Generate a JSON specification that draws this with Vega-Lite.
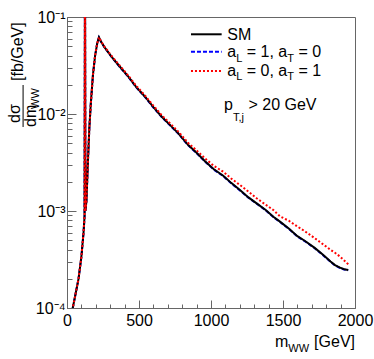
{
  "$schema": "https://vega.github.io/schema/vega-lite/v6.json",
  "width": 288,
  "height": 291,
  "autosize": {"type": "none"},
  "padding": {"left": 67, "top": 17, "right": 19, "bottom": 51},
  "background": "white",
  "config": {
    "font": "Liberation Sans",
    "view": {"stroke": "#666", "strokeWidth": 1},
    "text": {"font": "Liberation Sans", "color": "black"}
  },
  "datasets": {
    "curves": [
      {"m": 30, "s": "SM", "v": 6.5e-5}, {"m": 40, "s": "SM", "v": 1.0e-4}, {"m": 60, "s": "SM", "v": 1.413e-4}, {"m": 80, "s": "SM", "v": 1.995e-4}, {"m": 100, "s": "SM", "v": 3.388e-4}, {"m": 115, "s": "SM", "v": 6.026e-4}, {"m": 122, "s": "SM", "v": 8.913e-4}, {"m": 125, "s": "SM", "v": 0.5}, {"m": 128, "s": "SM", "v": 1.0e-3}, {"m": 135, "s": "SM", "v": 1.259e-3}, {"m": 145, "s": "SM", "v": 3.162e-3}, {"m": 155, "s": "SM", "v": 7.079e-3}, {"m": 165, "s": "SM", "v": 0.01259}, {"m": 180, "s": "SM", "v": 0.02512}, {"m": 195, "s": "SM", "v": 0.03981}, {"m": 210, "s": "SM", "v": 0.0537}, {"m": 222, "s": "SM", "v": 0.06166}, {"m": 235, "s": "SM", "v": 0.05623}, {"m": 260, "s": "SM", "v": 0.04898}, {"m": 310, "s": "SM", "v": 0.0389}, {"m": 360, "s": "SM", "v": 0.03162}, {"m": 426, "s": "SM", "v": 0.02427}, {"m": 480, "s": "SM", "v": 0.01905}, {"m": 542, "s": "SM", "v": 0.01507}, {"m": 600, "s": "SM", "v": 0.01175}, {"m": 658, "s": "SM", "v": 0.009376}, {"m": 720, "s": "SM", "v": 0.007586}, {"m": 773, "s": "SM", "v": 0.006324}, {"m": 842, "s": "SM", "v": 0.004786}, {"m": 900, "s": "SM", "v": 0.003981}, {"m": 960, "s": "SM", "v": 0.003236}, {"m": 1020, "s": "SM", "v": 0.002692}, {"m": 1085, "s": "SM", "v": 0.002312}, {"m": 1140, "s": "SM", "v": 0.00195}, {"m": 1201, "s": "SM", "v": 0.001644}, {"m": 1260, "s": "SM", "v": 0.00138}, {"m": 1317, "s": "SM", "v": 0.001199}, {"m": 1380, "s": "SM", "v": 0.001023}, {"m": 1433, "s": "SM", "v": 0.000873}, {"m": 1479, "s": "SM", "v": 0.0007762}, {"m": 1540, "s": "SM", "v": 0.0006607}, {"m": 1600, "s": "SM", "v": 0.0005495}, {"m": 1653, "s": "SM", "v": 0.0004909}, {"m": 1720, "s": "SM", "v": 0.0004169}, {"m": 1780, "s": "SM", "v": 0.0003516}, {"m": 1830, "s": "SM", "v": 0.000302}, {"m": 1861, "s": "SM", "v": 0.0002773}, {"m": 1896, "s": "SM", "v": 0.0002606}, {"m": 1925, "s": "SM", "v": 0.0002512}, {"m": 1953, "s": "SM", "v": 0.0002466},

      {"m": 30, "s": "L", "v": 6.5e-5}, {"m": 40, "s": "L", "v": 1.0e-4}, {"m": 60, "s": "L", "v": 1.41e-4}, {"m": 80, "s": "L", "v": 1.99e-4}, {"m": 100, "s": "L", "v": 3.38e-4}, {"m": 115, "s": "L", "v": 6.0e-4}, {"m": 122, "s": "L", "v": 8.9e-4}, {"m": 125, "s": "L", "v": 0.5}, {"m": 128, "s": "L", "v": 1.0e-3}, {"m": 135, "s": "L", "v": 1.26e-3}, {"m": 145, "s": "L", "v": 3.16e-3}, {"m": 155, "s": "L", "v": 7.08e-3}, {"m": 165, "s": "L", "v": 0.01259}, {"m": 180, "s": "L", "v": 0.0251}, {"m": 195, "s": "L", "v": 0.0398}, {"m": 210, "s": "L", "v": 0.0537}, {"m": 222, "s": "L", "v": 0.0615}, {"m": 235, "s": "L", "v": 0.056}, {"m": 260, "s": "L", "v": 0.0487}, {"m": 310, "s": "L", "v": 0.0387}, {"m": 360, "s": "L", "v": 0.0314}, {"m": 426, "s": "L", "v": 0.0241}, {"m": 480, "s": "L", "v": 0.0189}, {"m": 542, "s": "L", "v": 0.01495}, {"m": 600, "s": "L", "v": 0.01165}, {"m": 658, "s": "L", "v": 0.0093}, {"m": 720, "s": "L", "v": 0.00752}, {"m": 773, "s": "L", "v": 0.00627}, {"m": 842, "s": "L", "v": 0.00475}, {"m": 900, "s": "L", "v": 0.00395}, {"m": 960, "s": "L", "v": 0.00321}, {"m": 1020, "s": "L", "v": 0.00267}, {"m": 1085, "s": "L", "v": 0.00229}, {"m": 1140, "s": "L", "v": 0.001935}, {"m": 1201, "s": "L", "v": 0.00163}, {"m": 1260, "s": "L", "v": 0.00137}, {"m": 1317, "s": "L", "v": 0.00119}, {"m": 1380, "s": "L", "v": 0.001015}, {"m": 1433, "s": "L", "v": 0.000866}, {"m": 1479, "s": "L", "v": 0.00077}, {"m": 1540, "s": "L", "v": 0.000655}, {"m": 1600, "s": "L", "v": 0.000545}, {"m": 1653, "s": "L", "v": 0.000487}, {"m": 1720, "s": "L", "v": 0.000413}, {"m": 1780, "s": "L", "v": 0.000348}, {"m": 1830, "s": "L", "v": 0.0003}, {"m": 1861, "s": "L", "v": 0.000275}, {"m": 1896, "s": "L", "v": 0.000258}, {"m": 1925, "s": "L", "v": 0.000249}, {"m": 1953, "s": "L", "v": 0.000245},

      {"m": 30, "s": "T", "v": 6.5e-5}, {"m": 40, "s": "T", "v": 1.0e-4}, {"m": 60, "s": "T", "v": 1.413e-4}, {"m": 80, "s": "T", "v": 1.995e-4}, {"m": 100, "s": "T", "v": 3.388e-4}, {"m": 115, "s": "T", "v": 6.026e-4}, {"m": 122, "s": "T", "v": 8.913e-4}, {"m": 125, "s": "T", "v": 0.5}, {"m": 128, "s": "T", "v": 1.0e-3}, {"m": 135, "s": "T", "v": 1.259e-3}, {"m": 145, "s": "T", "v": 3.162e-3}, {"m": 155, "s": "T", "v": 7.079e-3}, {"m": 165, "s": "T", "v": 0.01259}, {"m": 180, "s": "T", "v": 0.02512}, {"m": 195, "s": "T", "v": 0.03981}, {"m": 210, "s": "T", "v": 0.0537}, {"m": 222, "s": "T", "v": 0.06166}, {"m": 235, "s": "T", "v": 0.05689}, {"m": 260, "s": "T", "v": 0.04955}, {"m": 310, "s": "T", "v": 0.03963}, {"m": 360, "s": "T", "v": 0.03236}, {"m": 426, "s": "T", "v": 0.02483}, {"m": 480, "s": "T", "v": 0.01959}, {"m": 542, "s": "T", "v": 0.01549}, {"m": 600, "s": "T", "v": 0.01216}, {"m": 658, "s": "T", "v": 0.009705}, {"m": 720, "s": "T", "v": 0.007889}, {"m": 773, "s": "T", "v": 0.006577}, {"m": 842, "s": "T", "v": 0.005012}, {"m": 900, "s": "T", "v": 0.004217}, {"m": 960, "s": "T", "v": 0.003467}, {"m": 1020, "s": "T", "v": 0.002917}, {"m": 1085, "s": "T", "v": 0.002541}, {"m": 1140, "s": "T", "v": 0.002163}, {"m": 1201, "s": "T", "v": 0.001854}, {"m": 1260, "s": "T", "v": 0.001585}, {"m": 1317, "s": "T", "v": 0.001352}, {"m": 1380, "s": "T", "v": 0.001161}, {"m": 1433, "s": "T", "v": 0.001023}, {"m": 1479, "s": "T", "v": 0.000881}, {"m": 1540, "s": "T", "v": 0.0007943}, {"m": 1600, "s": "T", "v": 0.0006918}, {"m": 1653, "s": "T", "v": 0.0006166}, {"m": 1720, "s": "T", "v": 0.0005248}, {"m": 1780, "s": "T", "v": 0.0004519}, {"m": 1830, "s": "T", "v": 0.0003981}, {"m": 1861, "s": "T", "v": 0.0003715}, {"m": 1896, "s": "T", "v": 0.0003388}, {"m": 1925, "s": "T", "v": 0.000309}, {"m": 1953, "s": "T", "v": 0.0002825}
    ]
  },
  "layer": [
    {
      "data": {"name": "curves"},
      "encoding": {
        "x": {
          "field": "m", "type": "quantitative",
          "scale": {"domain": [0, 2000], "nice": false, "zero": false},
          "axis": {
            "title": null, "grid": false,
            "values": [0, 100, 200, 300, 400, 500, 600, 700, 800, 900, 1000, 1100, 1200, 1300, 1400, 1500, 1600, 1700, 1800, 1900, 2000],
            "format": "d",
            "labelExpr": "datum.value % 500 === 0 ? datum.label : ''",
            "tickSize": {"condition": {"test": "datum.value % 500 === 0", "value": -8}, "value": -4},
            "labelPadding": 12, "labelFontSize": 16, "labelColor": "black", "labelFont": "Liberation Sans",
            "labelOverlap": false, "labelFlush": false, "labelBound": false,
            "domainColor": "#666", "tickColor": "#666"
          }
        },
        "y": {
          "field": "v", "type": "quantitative",
          "scale": {"type": "log", "domain": [0.0001, 0.1], "nice": false},
          "axis": {
            "title": null, "grid": false,
            "values": [0.0001, 0.0002, 0.0003, 0.0004, 0.0005, 0.0006, 0.0007, 0.0008, 0.0009, 0.001, 0.002, 0.003, 0.004, 0.005, 0.006, 0.007, 0.008, 0.009, 0.01, 0.02, 0.03, 0.04, 0.05, 0.06, 0.07, 0.08, 0.09, 0.1],
            "labelExpr": "datum.value === 0.1 ? '10⁻¹' : datum.value === 0.01 ? '10⁻²' : datum.value === 0.001 ? '10⁻³' : datum.value === 0.0001 ? '10⁻⁴' : ''",
            "tickSize": {"condition": {"test": "datum.value === 0.1 || datum.value === 0.01 || datum.value === 0.001 || datum.value === 0.0001", "value": -9}, "value": -5},
            "labelPadding": 11, "labelFontSize": 16, "labelColor": "black", "labelFont": "Liberation Sans",
            "labelOverlap": false, "labelFlush": false, "labelBound": false,
            "domainColor": "#666", "tickColor": "#666"
          }
        }
      },
      "layer": [
        {"transform": [{"filter": "datum.s === 'L'"}], "mark": {"type": "line", "color": "#0000ff", "strokeWidth": 2, "strokeDash": [4, 2], "clip": true}},
        {"transform": [{"filter": "datum.s === 'SM'"}], "mark": {"type": "line", "color": "black", "strokeWidth": 2, "clip": true}},
        {"transform": [{"filter": "datum.s === 'T'"}], "mark": {"type": "line", "color": "#ff0000", "strokeWidth": 2, "strokeDash": [2, 2], "clip": true}}
      ]
    },
    {
      "data": {"values": [{"t": ""}]},
      "encoding": {
        "x": {
          "datum": 0, "type": "quantitative",
          "scale": {"domain": [0, 2000], "nice": false, "zero": false},
          "axis": {
            "title": null, "grid": false,
            "values": [0, 100, 200, 300, 400, 500, 600, 700, 800, 900, 1000, 1100, 1200, 1300, 1400, 1500, 1600, 1700, 1800, 1900, 2000],
            "format": "d",
            "labelExpr": "datum.value % 500 === 0 ? datum.label : ''",
            "tickSize": {"condition": {"test": "datum.value % 500 === 0", "value": -8}, "value": -4},
            "labelPadding": 12, "labelFontSize": 16, "labelColor": "black", "labelFont": "Liberation Sans",
            "labelOverlap": false, "labelFlush": false, "labelBound": false,
            "domainColor": "#666", "tickColor": "#666"
          }
        },
        "y": {
          "datum": 0.001, "type": "quantitative",
          "scale": {"type": "log", "domain": [0.0001, 0.1], "nice": false},
          "axis": {
            "title": null, "grid": false,
            "values": [0.0001, 0.0002, 0.0003, 0.0004, 0.0005, 0.0006, 0.0007, 0.0008, 0.0009, 0.001, 0.002, 0.003, 0.004, 0.005, 0.006, 0.007, 0.008, 0.009, 0.01, 0.02, 0.03, 0.04, 0.05, 0.06, 0.07, 0.08, 0.09, 0.1],
            "labelExpr": "datum.value === 0.1 ? '10⁻¹' : datum.value === 0.01 ? '10⁻²' : datum.value === 0.001 ? '10⁻³' : datum.value === 0.0001 ? '10⁻⁴' : ''",
            "tickSize": {"condition": {"test": "datum.value === 0.1 || datum.value === 0.01 || datum.value === 0.001 || datum.value === 0.0001", "value": -9}, "value": -5},
            "labelPadding": 11, "labelFontSize": 16, "labelColor": "black", "labelFont": "Liberation Sans",
            "labelOverlap": false, "labelFlush": false, "labelBound": false,
            "domainColor": "#666", "tickColor": "#666"
          }
        }
      },
      "layer": [
        {"mark": {"type": "rule", "color": "black", "strokeWidth": 2}, "encoding": {"x": {"datum": 861}, "x2": {"datum": 1074}, "y": {"datum": 0.06633}}},
        {"mark": {"type": "rule", "color": "#0000ff", "strokeWidth": 2, "strokeDash": [4, 2]}, "encoding": {"x": {"datum": 861}, "x2": {"datum": 1074}, "y": {"datum": 0.04388}}},
        {"mark": {"type": "rule", "color": "#ff0000", "strokeWidth": 2, "strokeDash": [2, 2]}, "encoding": {"x": {"datum": 861}, "x2": {"datum": 1074}, "y": {"datum": 0.02775}}},

        {"mark": {"type": "text", "align": "left", "baseline": "alphabetic", "fontSize": 16, "text": "SM"}, "encoding": {"x": {"datum": 1113}, "y": {"datum": 0.05792}}},

        {"mark": {"type": "text", "align": "left", "baseline": "alphabetic", "fontSize": 16, "text": "a"}, "encoding": {"x": {"datum": 1113}, "y": {"datum": 0.03869}}},
        {"mark": {"type": "text", "align": "left", "baseline": "alphabetic", "fontSize": 11, "text": "L"}, "encoding": {"x": {"datum": 1175}, "y": {"datum": 0.03477}}},
        {"mark": {"type": "text", "align": "left", "baseline": "alphabetic", "fontSize": 16, "text": "= 1, a"}, "encoding": {"x": {"datum": 1248}, "y": {"datum": 0.03869}}},
        {"mark": {"type": "text", "align": "left", "baseline": "alphabetic", "fontSize": 11, "text": "T"}, "encoding": {"x": {"datum": 1529}, "y": {"datum": 0.03477}}},
        {"mark": {"type": "text", "align": "left", "baseline": "alphabetic", "fontSize": 16, "text": "= 0"}, "encoding": {"x": {"datum": 1607}, "y": {"datum": 0.03869}}},

        {"mark": {"type": "text", "align": "left", "baseline": "alphabetic", "fontSize": 16, "text": "a"}, "encoding": {"x": {"datum": 1113}, "y": {"datum": 0.02465}}},
        {"mark": {"type": "text", "align": "left", "baseline": "alphabetic", "fontSize": 11, "text": "L"}, "encoding": {"x": {"datum": 1175}, "y": {"datum": 0.02215}}},
        {"mark": {"type": "text", "align": "left", "baseline": "alphabetic", "fontSize": 16, "text": "= 0, a"}, "encoding": {"x": {"datum": 1248}, "y": {"datum": 0.02465}}},
        {"mark": {"type": "text", "align": "left", "baseline": "alphabetic", "fontSize": 11, "text": "T"}, "encoding": {"x": {"datum": 1529}, "y": {"datum": 0.02215}}},
        {"mark": {"type": "text", "align": "left", "baseline": "alphabetic", "fontSize": 16, "text": "= 1"}, "encoding": {"x": {"datum": 1607}, "y": {"datum": 0.02465}}},

        {"mark": {"type": "text", "align": "left", "baseline": "alphabetic", "fontSize": 16, "text": "p"}, "encoding": {"x": {"datum": 1090}, "y": {"datum": 0.01099}}},
        {"mark": {"type": "text", "align": "left", "baseline": "alphabetic", "fontSize": 11, "text": "T,j"}, "encoding": {"x": {"datum": 1152}, "y": {"datum": 0.008428}}},
        {"mark": {"type": "text", "align": "left", "baseline": "alphabetic", "fontSize": 16, "text": "> 20 GeV"}, "encoding": {"x": {"datum": 1260}, "y": {"datum": 0.01099}}},

        {"mark": {"type": "text", "align": "left", "baseline": "alphabetic", "fontSize": 16, "text": "m"}, "encoding": {"x": {"datum": 1444}, "y": {"datum": 3.963e-5}}},
        {"mark": {"type": "text", "align": "left", "baseline": "alphabetic", "fontSize": 11, "text": "WW"}, "encoding": {"x": {"datum": 1537}, "y": {"datum": 3.559e-5}}},
        {"mark": {"type": "text", "align": "right", "baseline": "alphabetic", "fontSize": 16, "text": "[GeV]"}, "encoding": {"x": {"datum": 2000}, "y": {"datum": 3.963e-5}}},

        {"mark": {"type": "text", "align": "left", "baseline": "alphabetic", "fontSize": 16, "angle": 270, "text": "dσ"}, "encoding": {"x": {"datum": -326}, "y": {"datum": 0.008072}}},
        {"mark": {"type": "rule", "color": "black", "strokeWidth": 1}, "encoding": {"x": {"datum": -305}, "y": {"datum": 0.0199}, "y2": {"datum": 0.007345}}},
        {"mark": {"type": "text", "align": "left", "baseline": "alphabetic", "fontSize": 16, "angle": 270, "text": "dm"}, "encoding": {"x": {"datum": -212}, "y": {"datum": 0.007345}}},
        {"mark": {"type": "text", "align": "left", "baseline": "alphabetic", "fontSize": 11, "angle": 270, "text": "WW"}, "encoding": {"x": {"datum": -191}, "y": {"datum": 0.01127}}},
        {"mark": {"type": "text", "align": "left", "baseline": "alphabetic", "fontSize": 16, "angle": 270, "text": "[fb/GeV]"}, "encoding": {"x": {"datum": -305}, "y": {"datum": 0.02188}}}
      ]
    }
  ]
}
